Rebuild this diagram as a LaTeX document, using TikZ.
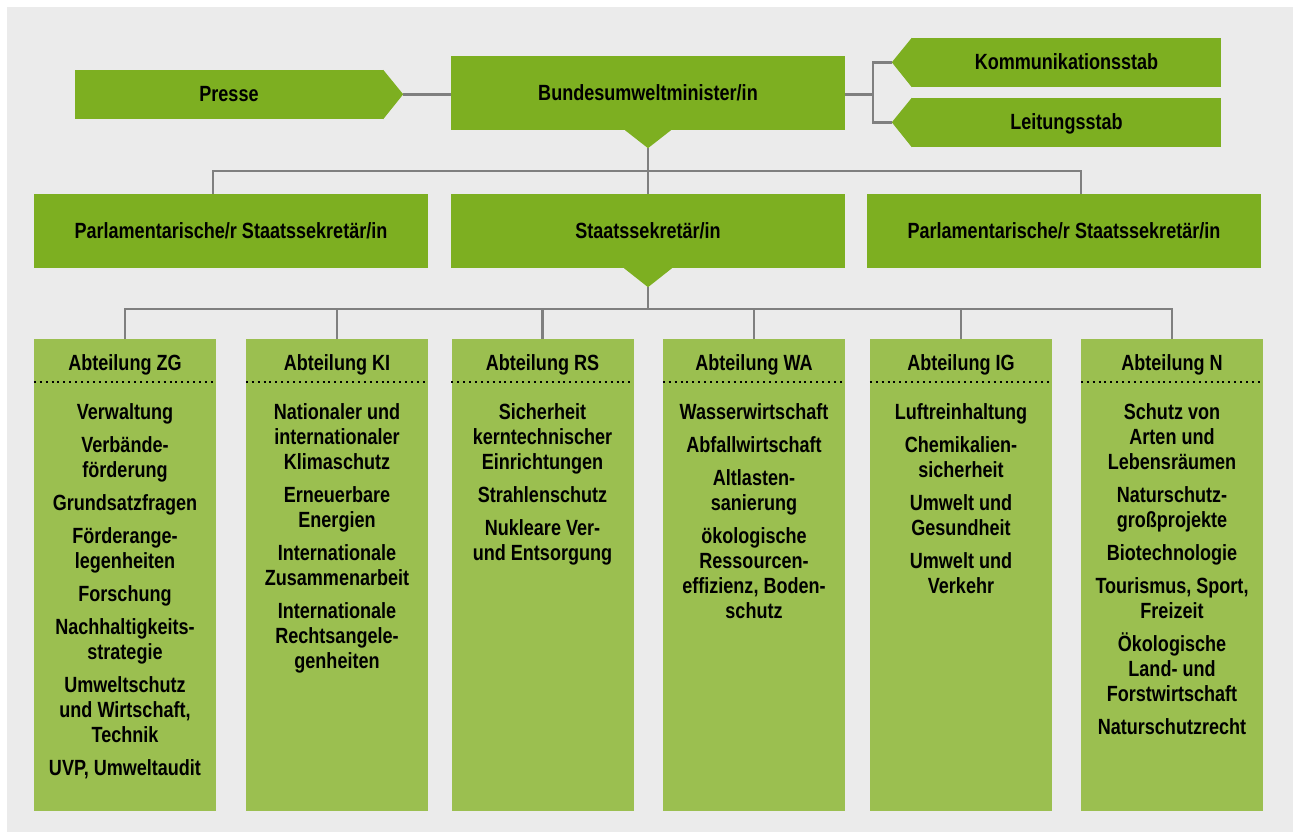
\documentclass[tikz,border=0pt]{standalone}
\usepackage{fontspec}
\setmainfont{Liberation Sans}[FakeStretch=0.82]
\usetikzlibrary{calc}
\definecolor{leadgreen}{RGB}{125,175,33}
\definecolor{deptgreen}{RGB}{155,191,80}
\definecolor{backgray}{RGB}{235,235,235}
\definecolor{linegray}{RGB}{127,127,127}

\begin{document}
\begin{tikzpicture}
    [x=1pt, y=-1pt,
    lead/.style={fill=leadgreen, inner sep=0pt, text height=15pt, text depth=0pt, font=\fontsize{22}{25}\selectfont\bfseries},
    dept/.style={fill=deptgreen, minimum width=182pt, minimum height=472pt, inner sep=0pt, anchor=north},
    head/.style={inner sep=0pt, text height=15pt, text depth=0pt, font=\fontsize{22}{25}\selectfont\bfseries},
    items/.style={anchor=north, align=center, inner sep=0pt, font=\fontsize{22}{25}\selectfont\bfseries},
    link/.style={draw=linegray, line width=2.5pt},
    dots/.style={line width=2pt, dash pattern=on 2pt off 3.9pt}]
    \useasboundingbox (0,0) rectangle (1294,832);
    \fill[backgray] (7,7) rectangle (1293,832);
    % top row
    \node[lead, minimum width=308pt, minimum height=49pt] (presse) at (229,94.5) {Presse};
    \node[lead, minimum width=394pt, minimum height=74pt] (bum) at (648,93) {Bundesumweltminister/in};
    \node[lead, minimum width=309pt, minimum height=49pt] (komm) at (1066.5,62.5) {Kommunikationsstab};
    \node[lead, minimum width=309pt, minimum height=49pt] (leit) at (1066.5,122.5) {Leitungsstab};
    \fill[leadgreen] (presse.north east) -- ++(20,24.5) coordinate (presse tip) -- (presse.south east) -- cycle;
    \fill[leadgreen] (komm.north west) -- ++(-20,24.5) coordinate (komm tip) -- (komm.south west) -- cycle;
    \fill[leadgreen] (leit.north west) -- ++(-20,24.5) coordinate (leit tip) -- (leit.south west) -- cycle;
    \fill[leadgreen] ($(bum.south)+(-23,0)$) -- ++(23,18) coordinate (bum tip) -- ++(23,-18) -- cycle;
    % second row
    \node[lead, minimum width=394pt, minimum height=74pt] (psl) at (231,231) {Parlamentarische/r Staatssekretär/in};
    \node[lead, minimum width=394pt, minimum height=74pt] (sek) at (648,231) {Staatssekretär/in};
    \node[lead, minimum width=394pt, minimum height=74pt] (psr) at (1064,231) {Parlamentarische/r Staatssekretär/in};
    \fill[leadgreen] ($(sek.south)+(-24,0)$) -- ++(24,19) coordinate (sek tip) -- ++(24,-19) -- cycle;
    \draw[link] (presse tip) -- (presse tip -| bum.west);
    \draw[link] (bum.east |- presse tip) -- ++(28,0) coordinate (fork);
    \draw[link] (komm tip) -| (fork) |- (leit tip);
    \draw[link] (bum tip) -- (sek.north);
    \draw[link] ($(psl.north)+(-18,0)$) -- ++(0,-23) -| ($(psr.north)+(17,0)$);
    % departments
    \foreach \name/\x/\title in {zg/125/ZG, ki/337/KI, rs/542.5/RS, wa/754/WA, ig/961/IG, n/1172/N} {
        \node[dept] (\name) at (\x,339) {};
        \node[head] at ($(\name.north)+(0,24)$) {Abteilung \title};
        \draw[dots] ($(\name.north west)+(0,43)$) -- ($(\name.north east)+(0,43)$);
        \draw[link] (\name.north) -- ++(0,-30);
    }
    \draw[link] (zg.north) -- ++(0,-30) -| (n.north);
    \draw[link] (sek tip) -- ++(0,22);
    \node[items] at ($(zg.north)+(0,64)$) {Verwaltung\\[8pt] Verbände-\\förderung\\[8pt] Grundsatzfragen\\[8pt] Förderange-\\legenheiten\\[8pt] Forschung\\[8pt] Nachhaltigkeits-\\strategie\\[8pt] Umweltschutz\\und Wirtschaft,\\Technik\\[8pt] UVP, Umweltaudit};
    \node[items] at ($(ki.north)+(0,64)$) {Nationaler und\\internationaler\\Klimaschutz\\[8pt] Erneuerbare\\Energien\\[8pt] Internationale\\Zusammenarbeit\\[8pt] Internationale\\Rechtsangele-\\genheiten};
    \node[items] at ($(rs.north)+(0,64)$) {Sicherheit\\kerntechnischer\\Einrichtungen\\[8pt] Strahlenschutz\\[8pt] Nukleare Ver-\\und Entsorgung};
    \node[items] at ($(wa.north)+(0,64)$) {Wasserwirtschaft\\[8pt] Abfallwirtschaft\\[8pt] Altlasten-\\sanierung\\[8pt] ökologische\\Ressourcen-\\effizienz, Boden-\\schutz};
    \node[items] at ($(ig.north)+(0,64)$) {Luftreinhaltung\\[8pt] Chemikalien-\\sicherheit\\[8pt] Umwelt und\\Gesundheit\\[8pt] Umwelt und\\Verkehr};
    \node[items] at ($(n.north)+(0,64)$) {Schutz von\\Arten und\\Lebensräumen\\[8pt] Naturschutz-\\großprojekte\\[8pt] Biotechnologie\\[8pt] Tourismus, Sport,\\Freizeit\\[8pt] Ökologische\\Land- und\\Forstwirtschaft\\[8pt] Naturschutzrecht};
\end{tikzpicture}
\end{document}
